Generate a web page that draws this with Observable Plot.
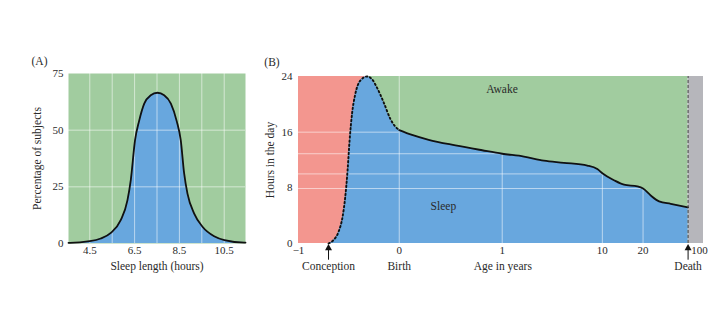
<!DOCTYPE html>
<html><head><meta charset="utf-8">
<script src="https://cdn.jsdelivr.net/npm/d3@7"></script>
<script src="https://cdn.jsdelivr.net/npm/@observablehq/plot@0.6"></script>
<style>
body{margin:0;background:#fff;}
#wrap{position:relative;width:720px;height:332px;overflow:hidden;}
#a{position:absolute;left:0;top:0;}
#b{position:absolute;left:260px;top:0;}
</style></head><body><div id="wrap"><div id="a"></div><div id="b"></div></div>
<script>
// ---------- Panel A data ----------
const sleepHours = [3.55, 3.62, 4.5, 4.99, 5.44, 5.88, 6.18, 6.33, 6.52, 6.7, 6.93, 7.22, 7.52, 7.82, 8.12, 8.38, 8.56, 8.71, 8.86, 9.16, 9.53, 10.05, 10.51, 11.39, 11.45];
const subjectPct = [0.3, 0.3, 1.0, 2.2, 4.7, 10.3, 19, 28, 45.6, 54, 61.7, 65.4, 66.5, 65.4, 61.7, 54, 45.6, 31, 22, 13.2, 7.4, 3.2, 1.5, 0.4, 0.4];
const hoursTicksA = [4.5, 6.5, 8.5, 10.5];
const hoursGridA = [4.5, 5.5, 6.5, 7.5, 8.5, 9.5, 10.5];
const pctTicks = [0, 25, 50, 75];
const pctGrid = [25, 50];

// ---------- Panel B data (x = position on the age axis) ----------
const ageTickPos = [-1, 0, 1.022, 2.016, 2.42, 2.98];
const ageTickLabels = ["\u22121", "0", "1", "10", "20", "100"];
const prenatalPos = [-0.702, -0.652, -0.602, -0.563, -0.536, -0.513, -0.493, -0.469, -0.436, -0.387, -0.32, -0.27, -0.221, -0.155, -0.088, -0.039, 0];
const prenatalSleep = [0, 0.5, 1.7, 3.8, 6.7, 10.5, 14.8, 18.6, 21.5, 23.4, 24, 23.6, 22.4, 20.3, 17.9, 16.8, 16.3];
const postnatalPos = [0, 0.127, 0.292, 0.558, 0.823, 1.022, 1.237, 1.435, 1.634, 1.867, 1.966, 2.016, 2.131, 2.231, 2.364, 2.42, 2.496, 2.579, 2.695, 2.867];
const postnatalSleep = [16.3, 15.6, 14.9, 14.1, 13.4, 12.9, 12.5, 11.9, 11.6, 11.2, 10.7, 10.1, 9.1, 8.45, 8.2, 7.9, 6.9, 6.06, 5.7, 5.2];
const hoursTicksB = [0, 8, 16, 24];
const dropPos = [0, 1.022, 2.016, 2.42];
const dropLevel = [16, 12.9, 10, 7.9];
const dropTop = [24, 12.9, 10, 7.9];
const conceptionPos = -0.702, birthPos = 0, deathPos = 2.867, endPos = 3.02, peakPos = -0.32, startPos = -1;

const GREEN = "#a1cc9f", BLUE = "#68a7de", RED = "#f3968f", GRAY = "#b6b6bb", INK = "#2a2a2a";
const FONT = "'Liberation Serif', 'DejaVu Serif', serif";
const grid = {stroke: "white", strokeOpacity: 0.55, strokeWidth: 1};

// ---------- Panel A ----------
const A = sleepHours.map((h, i) => ({h, p: subjectPct[i]}));
const plotA = Plot.plot({
  width: 260, height: 332,
  marginLeft: 68, marginRight: 15, marginTop: 73, marginBottom: 89,
  style: {fontFamily: FONT, fontSize: "11px", color: INK, background: "transparent"},
  x: {domain: [3.55, 11.45], label: null},
  y: {domain: [0, 75], label: null},
  marks: [
    Plot.frame({fill: GREEN, stroke: null}),
    Plot.areaY(A, {x: "h", y: "p", fill: BLUE, curve: "monotone-x"}),
    Plot.ruleX(hoursGridA, grid),
    Plot.ruleY(pctGrid, grid),
    Plot.lineY(A, {x: "h", y: "p", stroke: "#111", strokeWidth: 1.8, curve: "monotone-x"}),
    Plot.axisX({ticks: hoursTicksA, tickSize: 0, tickPadding: 3, tickFormat: d => d.toFixed(1), label: null}),
    Plot.axisY({ticks: pctTicks, tickSize: 0, tickPadding: 5, label: null}),
    Plot.text(["Sleep length (hours)"], {frameAnchor: "bottom", dy: 26, fontSize: 11.5, fill: INK}),
    Plot.text(["Percentage of subjects"], {frameAnchor: "left", textAnchor: "middle", dx: -31, rotate: -90, fontSize: 11.5, fill: INK}),
    Plot.text(["(A)"], {frameAnchor: "top-left", textAnchor: "middle", dx: -29, dy: -17, fontSize: 11.5, fill: INK})
  ]
});
document.getElementById("a").append(plotA);

// ---------- Panel B ----------
const pre = prenatalPos.map((u, i) => ({u, s: prenatalSleep[i]}));
const post = postnatalPos.map((u, i) => ({u, s: postnatalSleep[i]}));
const all = pre.concat(post.slice(1));
const drops = dropPos.map((u, i) => ({u, h: dropLevel[i], top: dropTop[i], left: startPos, bottom: 0}));
const band = (x1, x2) => [{x1, x2, y1: 0, y2: 24}];
const arrows = [conceptionPos, deathPos].map(u => ({u, tip: -0.45, tail: -2.4}));

const plotB = Plot.plot({
  width: 460, height: 332,
  marginLeft: 38, marginRight: 17, marginTop: 76, marginBottom: 89,
  style: {fontFamily: FONT, fontSize: "11px", color: INK, background: "transparent", overflow: "visible"},
  x: {domain: [startPos, endPos], label: null},
  y: {domain: [0, 24], label: null},
  marks: [
    Plot.rect(band(startPos, peakPos), {x1: "x1", x2: "x2", y1: "y1", y2: "y2", fill: RED}),
    Plot.rect(band(peakPos, deathPos), {x1: "x1", x2: "x2", y1: "y1", y2: "y2", fill: GREEN}),
    Plot.rect(band(deathPos, endPos), {x1: "x1", x2: "x2", y1: "y1", y2: "y2", fill: GRAY}),
    Plot.areaY(all, {x: "u", y: "s", fill: BLUE, curve: "monotone-x"}),
    Plot.ruleY(drops, {y: "h", x1: "left", x2: "u", ...grid}),
    Plot.ruleX(drops, {x: "u", y1: "bottom", y2: "top", ...grid}),
    Plot.lineY(pre, {x: "u", y: "s", stroke: "#111", strokeWidth: 1.9, strokeDasharray: "1.5,2.6", curve: "monotone-x"}),
    Plot.lineY(post, {x: "u", y: "s", stroke: "#111", strokeWidth: 1.8, curve: "monotone-x"}),
    Plot.ruleX([deathPos], {y1: 0, y2: 24, stroke: "#444", strokeWidth: 1, strokeDasharray: "3,2"}),
    Plot.axisX({ticks: ageTickPos, tickFormat: (d, i) => ageTickLabels[i], tickSize: 0, tickPadding: 3, label: null}),
    Plot.axisY({ticks: hoursTicksB, tickSize: 0, tickPadding: 6, label: null}),
    Plot.ruleX(arrows, {x: "u", y1: "tip", y2: "tail", stroke: "#111", strokeWidth: 1}),
    Plot.dot(arrows, {x: "u", y: "tip", symbol: "triangle", r: 2.6, fill: "#111", stroke: null, dy: 1.5}),
    Plot.text(["Conception"], {x: [conceptionPos], frameAnchor: "bottom", dy: 26, fontSize: 11.5, fill: INK}),
    Plot.text(["Birth"], {x: [birthPos], frameAnchor: "bottom", dy: 26, fontSize: 11.5, fill: INK}),
    Plot.text(["Death"], {x: [deathPos], frameAnchor: "bottom", dy: 26, fontSize: 11.5, fill: INK}),
    Plot.text(["Age in years"], {x: [1.028], frameAnchor: "bottom", dy: 26, fontSize: 11.5, fill: INK}),
    Plot.text(["Awake"], {x: [1.02], y: [22.2], fontSize: 11.5, fill: INK}),
    Plot.text(["Sleep"], {x: [0.438], y: [5.4], fontSize: 11.5, fill: INK}),
    Plot.text(["Hours in the day"], {frameAnchor: "left", textAnchor: "middle", dx: -28, rotate: -90, fontSize: 11.5, fill: INK}),
    Plot.text(["(B)"], {frameAnchor: "top-left", textAnchor: "middle", dx: -26.5, dy: -19, fontSize: 11.5, fill: INK})
  ]
});
document.getElementById("b").append(plotB);
</script></body></html>
